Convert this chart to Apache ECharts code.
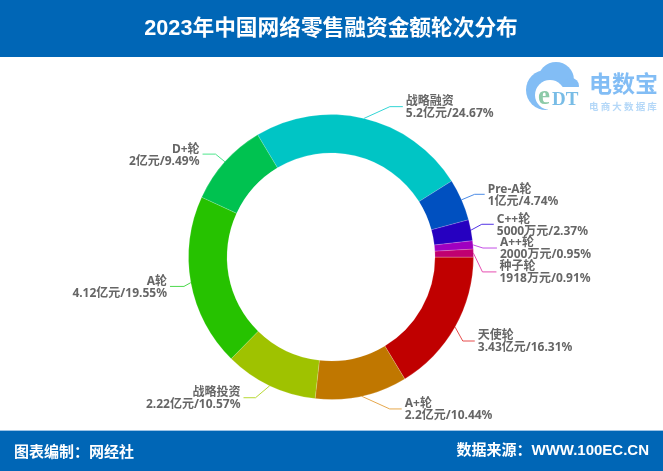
<!DOCTYPE html>
<html lang="zh-CN">
<head>
<meta charset="UTF-8">
<title>2023年中国网络零售融资金额轮次分布</title>
<style>
    html, body, #chart { width: 100%; height: 100%; margin: 0; padding: 0; background: #fff; }
</style>
<script src="https://cdn.jsdelivr.net/npm/echarts@6/dist/echarts.min.js"></script>
</head>
<body>
<div id="chart"></div>
<script>
    var rounds = ['战略融资', 'Pre-A轮', 'C++轮', 'A++轮', '种子轮', '天使轮', 'A+轮', '战略投资', 'A轮', 'D+轮'];
    var amounts = ['5.2亿元', '1亿元', '5000万元', '2000万元', '1918万元', '3.43亿元', '2.2亿元', '2.22亿元', '4.12亿元', '2亿元'];
    var shares = [24.67, 4.74, 2.37, 0.95, 0.91, 16.31, 10.44, 10.57, 19.55, 9.49];
    var sliceColors = ['#00c5c5', '#0050c0', '#2600c0', '#9f00c0', '#c00070', '#c00000', '#c07700', '#9fc200', '#26c200', '#00c250'];
    var lineColors = ['#33d6d6', '#4d8ce6', '#5233e6', '#c44de6', '#e64db0', '#e64d4d', '#e6a84d', '#b8d933', '#4dd94d', '#4de68c'];

    // per label tweaks: tail of the leader and how far label + elbow move from the default
    var lineTails = [13, 10, 12, 14, 14, 12, 12, 12, 14, 13];
    var shiftX = [23.5, 4, 1, 0, -1, -1, 26, -10, 3, -2];
    var shiftY = [-2, -1.5, -4, 4, 19, 9, 3, 3, 2, -1];

    var FONT = '"Noto Sans", "Noto Sans CJK SC", sans-serif';
    var BLUE = '#0066b6';
    var LOGO = '#82bdf5';

    var chart = echarts.init(document.getElementById('chart'));

    var pieData = rounds.map(function (name, i) {
        return {
            name: name,
            value: shares[i],
            itemStyle: { color: sliceColors[i] },
            labelLine: {
                length: 10,
                length2: lineTails[i],
                lineStyle: { color: lineColors[i], width: 1 }
            }
        };
    });

    chart.setOption({
        animation: false,
        backgroundColor: '#fff',
        graphic: [
            { type: 'rect', shape: { x: 0, y: 0, width: 663, height: 57 }, style: { fill: BLUE } },
            { type: 'rect', shape: { x: 0, y: 430, width: 663, height: 41 }, style: { fill: BLUE } },
            { type: 'rect', shape: { x: 0, y: 430, width: 663, height: 1 }, style: { fill: '#9cc3e6' } },
            {
                type: 'text', x: 331, y: 29,
                style: {
                    text: '2023年中国网络零售融资金额轮次分布', fill: '#fff', align: 'center', verticalAlign: 'middle',
                    font: 'bold 21.7px "Liberation Sans", "Noto Sans CJK SC", sans-serif'
                }
            },
            {
                type: 'text', x: 14, y: 451,
                style: {
                    text: '图表编制：网经社', fill: '#fff', align: 'left', verticalAlign: 'middle',
                    font: 'bold 15px "Noto Sans CJK SC", sans-serif'
                }
            },
            {
                type: 'text', x: 649, y: 451,
                style: {
                    text: '数据来源：WWW.100EC.CN', fill: '#fff', align: 'right', verticalAlign: 'middle',
                    font: 'bold 15px "Liberation Sans", "Noto Sans CJK SC", sans-serif'
                }
            },
            // logo, cloud first then the hole and the lettering on top
            { type: 'circle', shape: { cx: 546, cy: 90, r: 20 }, style: { fill: LOGO } },
            { type: 'circle', shape: { cx: 556, cy: 80, r: 18 }, style: { fill: LOGO } },
            { type: 'circle', shape: { cx: 571, cy: 86, r: 8 }, style: { fill: LOGO } },
            { type: 'circle', shape: { cx: 550, cy: 95, r: 15 }, style: { fill: '#fff' } },
            { type: 'rect', shape: { x: 548, y: 87, width: 36, height: 24 }, style: { fill: '#fff' } },
            {
                type: 'text', x: 538, y: 84,
                style: { text: 'e', fill: '#8ccaa8', font: 'bold 27px "Liberation Serif", serif' }
            },
            {
                type: 'text', x: 552, y: 91,
                style: { text: 'DT', fill: '#78bce6', font: 'bold 19px "Liberation Serif", serif' }
            },
            {
                type: 'text', x: 589, y: 72,
                style: { text: '电数宝', fill: LOGO, font: 'bold 23px "Noto Sans CJK SC", sans-serif' }
            },
            {
                type: 'text', x: 589, y: 102,
                style: { text: '电 商 大 数 据 库', fill: '#b5d8f8', font: 'bold 9.5px "Noto Sans CJK SC", sans-serif' }
            }
        ],
        series: [{
            type: 'pie',
            center: [331, 257],
            radius: [104, 142.5],
            startAngle: 121,
            clockwise: true,
            avoidLabelOverlap: false,
            data: pieData,
            itemStyle: { borderColor: 'rgba(255,255,255,0.35)', borderWidth: 0.5 },
            label: {
                show: true,
                position: 'outside',
                color: '#666',
                fontFamily: FONT,
                fontWeight: 'bold',
                fontSize: 12,
                lineHeight: 12,
                distanceToLabelLine: 3,
                formatter: function (p) {
                    return p.name + '\n' + amounts[p.dataIndex] + '/' + p.value + '%';
                }
            },
            labelLine: { show: true, smooth: false },
            labelLayout: function (p) {
                var dx = shiftX[p.dataIndex];
                var dy = shiftY[p.dataIndex];
                var pts = p.labelLinePoints;
                if (!pts) return {};
                return {
                    dx: dx,
                    dy: dy + 1,
                    labelLinePoints: [pts[0], [pts[1][0] + dx, pts[1][1] + dy], [pts[2][0] + dx, pts[2][1] + dy]]
                };
            }
        }]
    });
</script>
</body>
</html>
